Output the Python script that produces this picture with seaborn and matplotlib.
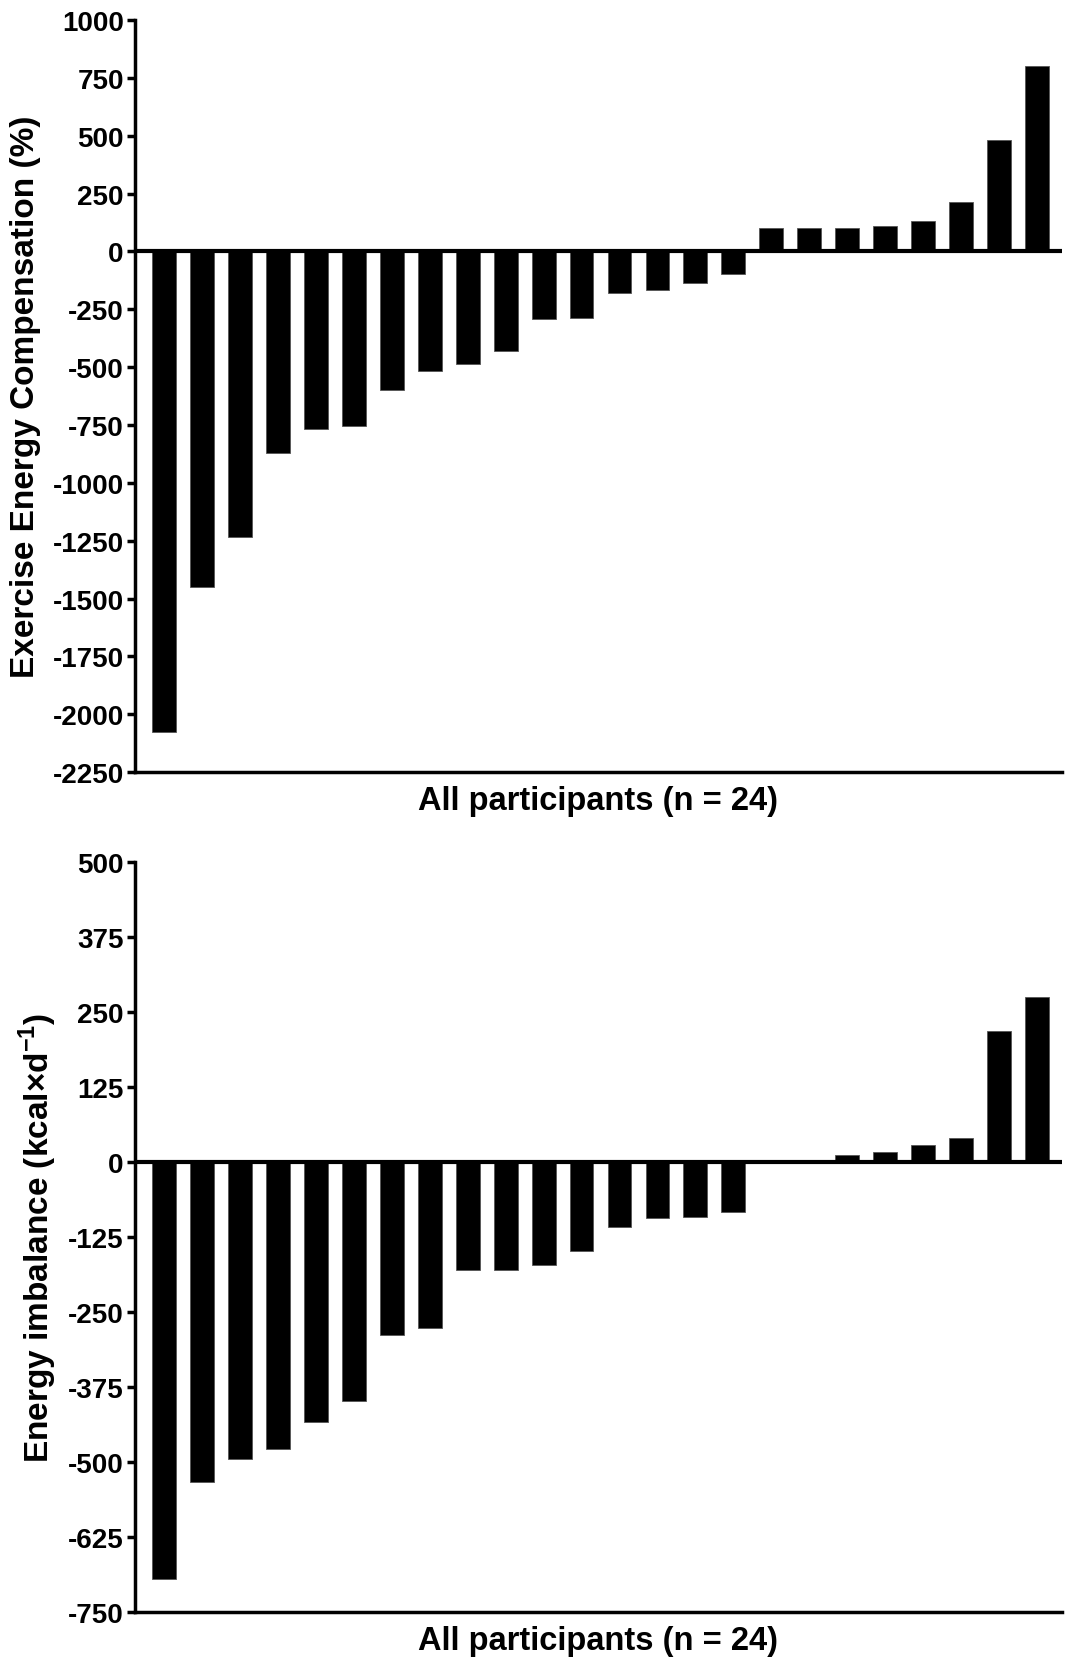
import numpy as np
import pandas as pd
import matplotlib
matplotlib.use("Agg")
import matplotlib.pyplot as plt
import seaborn as sns

# === DATA ===
participants = [f"P{i}" for i in range(1, 25)]

compensation_pct = [-2079, -1449, -1235, -870, -767, -756, -597, -519, -485, -429,
                    -292, -286, -180, -167, -138, -98,
                    100, 101, 101, 109, 131, 212, 481, 800]

imbalance_kcal = [-695, -533, -495, -478, -434, -399, -288, -276, -180, -180,
                  -171, -149, -109, -94, -91, -83,
                  0, 0, 12, 16, 28, 40, 218, 275]

top_ticks = [1000, 750, 500, 250, 0, -250, -500, -750, -1000, -1250,
             -1500, -1750, -2000, -2250]
bottom_ticks = [500, 375, 250, 125, 0, -125, -250, -375, -500, -625, -750]

XLABEL = "All participants (n = 24)"
YLABEL_TOP = "Exercise Energy Compensation (%)"
YLABEL_BOTTOM = r"Energy imbalance (kcal×d$^{\mathbf{-1}}$)"

# === STYLE ===
sns.set_style("ticks")
plt.rcParams['font.family'] = ['Liberation Sans', 'DejaVu Sans']
plt.rcParams['font.weight'] = 'bold'
plt.rcParams['axes.labelweight'] = 'bold'
plt.rcParams['text.color'] = 'black'
plt.rcParams['axes.labelcolor'] = 'black'
plt.rcParams['xtick.color'] = 'black'
plt.rcParams['ytick.color'] = 'black'
plt.rcParams['axes.edgecolor'] = 'black'
plt.rcParams['mathtext.fontset'] = 'custom'
plt.rcParams['mathtext.rm'] = 'Liberation Sans:bold'
plt.rcParams['mathtext.bf'] = 'Liberation Sans:bold'

LW = 2.5


def draw_panel(ax, values, ticks, ylabel, ylabel_x):
    df = pd.DataFrame({'participant': participants, 'value': values})
    sns.barplot(data=df, x='participant', y='value', color='black',
                saturation=1, width=0.63, edgecolor='#555555', linewidth=0.6,
                errorbar=None, ax=ax)
    ax.axhline(0, color='black', lw=3, zorder=3)

    ax.set_xlim(-0.76, 23.65)
    ax.set_ylim(min(ticks), max(ticks))
    ax.set_yticks(ticks)
    ax.set_yticklabels([str(t) for t in ticks], fontsize=20, fontweight='bold',
                       color='black')
    ax.set_xticks([])

    for side in ['top', 'right']:
        ax.spines[side].set_visible(False)
    for side in ['left', 'bottom']:
        ax.spines[side].set_linewidth(LW)
        ax.spines[side].set_color('black')
    ax.tick_params(axis='y', length=6, width=LW, pad=2, colors='black')

    ax.set_xlabel(XLABEL, fontsize=23.5, fontweight='bold', labelpad=9, color='black')
    ax.set_ylabel(ylabel, fontsize=24, fontweight='bold', color='black')
    ax.yaxis.set_label_coords(ylabel_x, 0.5)


fig = plt.figure(figsize=(10.71, 16.65), dpi=100)

ax_top = fig.add_axes([0.126, 0.5357, 0.8655, 0.4517])
draw_panel(ax_top, compensation_pct, top_ticks, YLABEL_TOP, -0.101)

ax_bot = fig.add_axes([0.126, 0.0312, 0.8655, 0.4505])
draw_panel(ax_bot, imbalance_kcal, bottom_ticks, YLABEL_BOTTOM, -0.082)

fig.savefig("out.png", dpi=100, facecolor='white')
